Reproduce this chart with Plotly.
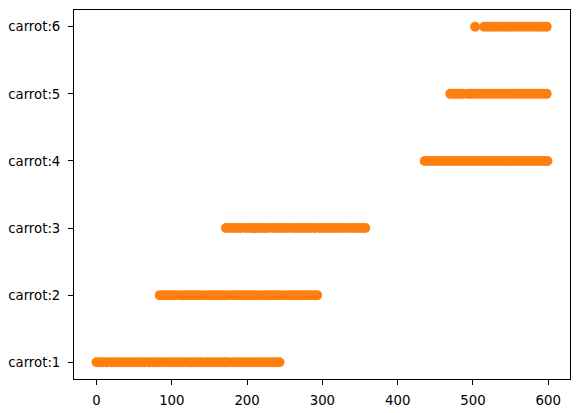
import plotly.graph_objects as go

categories = ["carrot:1", "carrot:2", "carrot:3", "carrot:4", "carrot:5", "carrot:6"]

x_carrot1 = [0, 5, 9, 14, 20, 25, 29, 34, 40, 45, 50, 55, 59, 64, 70, 75, 80, 84, 90, 95,
             100, 105, 110, 114, 120, 125, 130, 135, 139, 145, 150, 155, 160, 165, 170, 174,
             180, 185, 190, 195, 200, 205, 210, 215, 220, 225, 230, 235, 239, 243]
x_carrot2 = [84, 89, 94, 99, 104, 110, 115, 120, 125, 130, 135, 140, 146, 151, 156, 161, 166,
             171, 176, 182, 187, 192, 197, 202, 207, 212, 218, 223, 228, 233, 238, 243, 248,
             254, 259, 264, 269, 274, 279, 284, 289, 293]
x_carrot3 = [172, 177, 182, 187, 192, 198, 203, 208, 213, 218, 223, 228, 234, 239, 244, 249,
             254, 260, 265, 270, 275, 280, 285, 290, 296, 301, 306, 311, 316, 321, 326, 332,
             337, 342, 347, 352, 357]
x_carrot4 = [436, 441, 446, 451, 456, 461, 466, 471, 476, 481, 486, 491, 496, 501, 506, 511,
             516, 521, 526, 531, 536, 541, 546, 551, 556, 561, 566, 571, 576, 581, 586, 591,
             595, 599]
x_carrot5 = [470, 474, 478, 482, 486, 493, 498, 503, 508, 513, 518, 523, 528, 533, 538, 543,
             548, 553, 558, 563, 568, 573, 578, 583, 588, 593, 598]
x_carrot6 = [503, 515, 520, 525, 530, 535, 540, 545, 550, 555, 560, 565, 570, 575, 580, 585,
             590, 594, 598]

series = [x_carrot1, x_carrot2, x_carrot3, x_carrot4, x_carrot5, x_carrot6]

xs, ys = [], []
for cat, xv in zip(categories, series):
    xs.extend(xv)
    ys.extend([cat] * len(xv))

fig = go.Figure()
fig.add_trace(go.Scatter(
    x=xs, y=ys, mode="markers",
    marker=dict(color="#ff7f0e", size=10, line=dict(width=0)),
    showlegend=False,
))

axis_common = dict(
    showline=True, linecolor="black", linewidth=1, mirror=True,
    ticks="outside", ticklen=5, tickwidth=1, tickcolor="black",
    showgrid=False, zeroline=False, automargin=False,
    tickfont=dict(family="DejaVu Sans", size=13.3, color="black"),
)

fig.update_layout(
    width=580, height=413,
    margin=dict(l=74, r=10, t=10, b=34),
    paper_bgcolor="white", plot_bgcolor="white",
    xaxis=dict(range=[-29.95, 628.95], tickvals=[0, 100, 200, 300, 400, 500, 600],
               ticklabelstandoff=4, **axis_common),
    yaxis=dict(type="category", categoryorder="array", categoryarray=categories,
               range=[-0.25, 5.25], ticklabelstandoff=5, **axis_common),
)

fig.write_html("out.html",
               config={"displayModeBar": False},
               post_script="document.body.style.margin='0';document.body.style.overflow='hidden';")
